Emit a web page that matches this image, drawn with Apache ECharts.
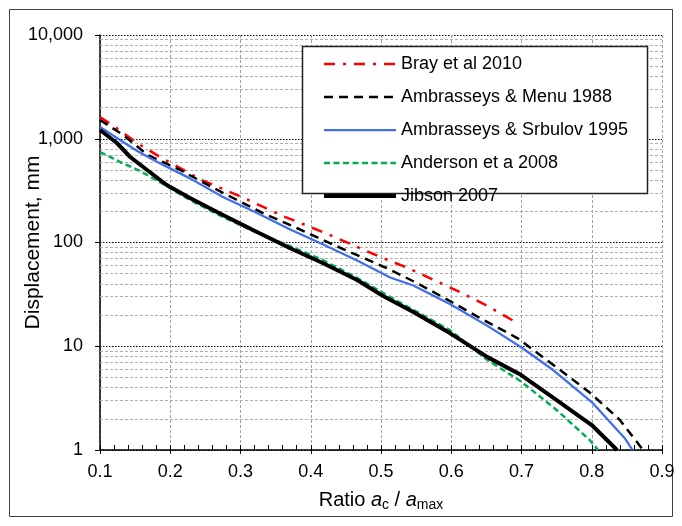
<!DOCTYPE html>
<html>
<head>
<meta charset="utf-8">
<script src="https://cdn.jsdelivr.net/npm/echarts@6/dist/echarts.min.js"></script>
<style>html,body{margin:0;padding:0;background:#fff}#c{width:682px;height:526px}</style>
</head>
<body>
<div id="c"></div>
<script>
// ---- data ----
var seriesNames = ['Bray et al 2010', 'Ambrasseys & Menu 1988', 'Ambrasseys & Srbulov 1995', 'Anderson et a 2008', 'Jibson 2007'];

var brayX = [0.1, 0.121, 0.155, 0.19, 0.245, 0.305, 0.36, 0.42, 0.5, 0.538, 0.577, 0.615, 0.652, 0.689];
var brayY = [1620, 1300, 890, 640, 400, 268, 180, 124, 72, 57, 43, 32.6, 24.4, 17.5];

var menuX = [0.1, 0.133, 0.168, 0.214, 0.267, 0.332, 0.38, 0.446, 0.508, 0.551, 0.598, 0.641, 0.694, 0.755, 0.798, 0.84, 0.873];
var menuY = [1515, 1087, 697, 500, 321, 192, 138, 86.5, 56.8, 40.7, 27.3, 18.7, 12.0, 5.9, 3.54, 1.95, 1.0];

var srbX = [0.1, 0.1285, 0.153, 0.181, 0.228, 0.275, 0.3235, 0.37, 0.417, 0.466, 0.513, 0.546, 0.598, 0.651, 0.699, 0.745, 0.8, 0.847, 0.858];
var srbY = [1298, 972, 762, 600, 415, 275, 192, 134, 96, 67, 46, 38.5, 25.5, 15.8, 9.84, 5.9, 2.9, 1.3, 1.0];

var andX = [0.1, 0.1285, 0.157, 0.195, 0.228, 0.275, 0.3235, 0.37, 0.417, 0.466, 0.513, 0.546, 0.598, 0.651, 0.699, 0.75, 0.797, 0.809];
var andY = [745, 597, 489, 350, 257, 176, 124, 92.5, 67.8, 45.5, 29.8, 22.4, 14.3, 7.4, 4.6, 2.43, 1.25, 1.0];

var jibX = [0.1, 0.124, 0.143, 0.167, 0.195, 0.228, 0.275, 0.3235, 0.37, 0.417, 0.466, 0.503, 0.546, 0.598, 0.651, 0.699, 0.75, 0.8, 0.836];
var jibY = [1214, 910, 667, 500, 358, 268, 184, 126, 88.5, 63.4, 43.5, 30.5, 21.4, 13.4, 7.9, 5.3, 3.03, 1.74, 1.0];

// minor horizontal gridline values of the log axis
var minorGridValues = [2, 3, 4, 5, 6, 7, 8, 9, 20, 30, 40, 50, 60, 70, 80, 90,
  200, 300, 400, 500, 600, 700, 800, 900, 2000, 3000, 4000, 5000, 6000, 7000, 8000, 9000];

function pairs(xs, ys) { return xs.map(function (x, i) { return [x, ys[i]]; }); }

var FONT = '"Liberation Sans", Arial, sans-serif';
var chart = echarts.init(document.getElementById('c'), null, { renderer: 'canvas' });

function lineSeries(name, xs, ys, color, width, type) {
  return {
    name: name, type: 'line', data: pairs(xs, ys), symbol: 'none', z: 5,
    lineStyle: { color: color, width: width, type: type, cap: 'butt', join: 'round' },
    itemStyle: { color: color }
  };
}

var option = {
  animation: false,
  backgroundColor: '#fff',
  textStyle: { fontFamily: FONT },
  grid: { left: 100, right: 20, top: 35, bottom: 76, containLabel: false, outerBoundsMode: 'none' },
  xAxis: [{
    type: 'value', min: 0.1, max: 0.9, interval: 0.1,
    name: '{n|Ratio }{i|a}{s|c}{n| / }{i|a}{s|max}',
    nameLocation: 'middle', nameGap: 38, nameMoveOverlap: false,
    nameTextStyle: {
      rich: {
        n: { fontSize: 20, fontFamily: FONT, color: '#000' },
        i: { fontSize: 20, fontFamily: FONT, fontStyle: 'italic', color: '#000' },
        s: { fontSize: 14, fontFamily: FONT, color: '#000', padding: [10, 0, 0, 0] }
      }
    },
    axisLine: { show: true, onZero: false, lineStyle: { color: '#000', width: 1.5 } },
    axisTick: { show: true, inside: true, length: 5, lineStyle: { color: '#000', width: 1 } },
    minorTick: { show: true, splitNumber: 5, length: 5, lineStyle: { color: '#000', width: 1 } },
    axisLabel: { fontSize: 18, color: '#000', fontFamily: FONT, margin: 13,
      formatter: function (v) { return v.toFixed(1); } },
    splitLine: { show: true, lineStyle: { color: '#a0a0a0', width: 1, type: [3, 2] } }
  }, {
    type: 'value', min: 0.1, max: 0.9, interval: 0.1, position: 'bottom', gridIndex: 0,
    axisLine: { show: false },
    axisTick: { show: true, inside: false, length: 4, lineStyle: { color: '#000', width: 1 } },
    axisLabel: { show: false },
    splitLine: { show: false }
  }],
  yAxis: {
    type: 'log', logBase: 10, min: 1, max: 10000,
    name: 'Displacement, mm', nameLocation: 'middle', nameGap: 56, nameMoveOverlap: false,
    nameTextStyle: { fontSize: 21, color: '#000', fontFamily: FONT },
    axisLine: { show: true, onZero: false, lineStyle: { color: '#000', width: 1.5 } },
    axisTick: { show: true, inside: false, length: 5, lineStyle: { color: '#000', width: 1 } },
    axisLabel: { fontSize: 18, color: '#000', fontFamily: FONT, margin: 17,
      formatter: function (v) { return Math.round(v).toString().replace(/\B(?=(\d{3})+(?!\d))/g, ','); } },
    splitLine: { show: true, lineStyle: { color: '#000', width: 1, type: [1.5, 1.5] } }
  },
  legend: {
    show: true, orient: 'vertical', left: 322, top: 55,
    data: seriesNames,
    itemWidth: 72, itemHeight: 14, itemGap: 15, padding: 0,
    textStyle: { fontSize: 18, color: '#000', fontFamily: FONT, lineHeight: 14 },
    itemStyle: { opacity: 0 },
    lineStyle: { width: 'inherit' },
    z: 20
  },
  graphic: [
    { type: 'rect', z: 0, silent: true, shape: { x: 9.5, y: 9.5, width: 663, height: 507 },
      style: { fill: null, stroke: '#404040', lineWidth: 1 } },
    { type: 'rect', z: 15, silent: true, shape: { x: 302.5, y: 46.5, width: 345, height: 147 },
      style: { fill: '#fff', stroke: '#222', lineWidth: 1.5 } }
  ],
  series: [
    {
      name: 'minor-grid', type: 'line', data: [], z: 1, silent: true,
      markLine: {
        silent: true, symbol: ['none', 'none'], label: { show: false },
        lineStyle: { color: '#b0b0b0', width: 1, type: [3, 2] },
        emphasis: { disabled: true },
        data: minorGridValues.map(function (v) { return { yAxis: v }; })
      }
    },
    lineSeries(seriesNames[0], brayX, brayY, '#ff0000', 2.5, [11, 8, 3, 8]),
    lineSeries(seriesNames[1], menuX, menuY, '#000000', 2.5, [9, 6]),
    lineSeries(seriesNames[2], srbX, srbY, '#3f6ff0', 2.25, 'solid'),
    lineSeries(seriesNames[3], andX, andY, '#00b050', 2.5, [6, 3.5]),
    lineSeries(seriesNames[4], jibX, jibY, '#000000', 4, 'solid')
  ]
};
chart.setOption(option);
</script>
</body>
</html>
